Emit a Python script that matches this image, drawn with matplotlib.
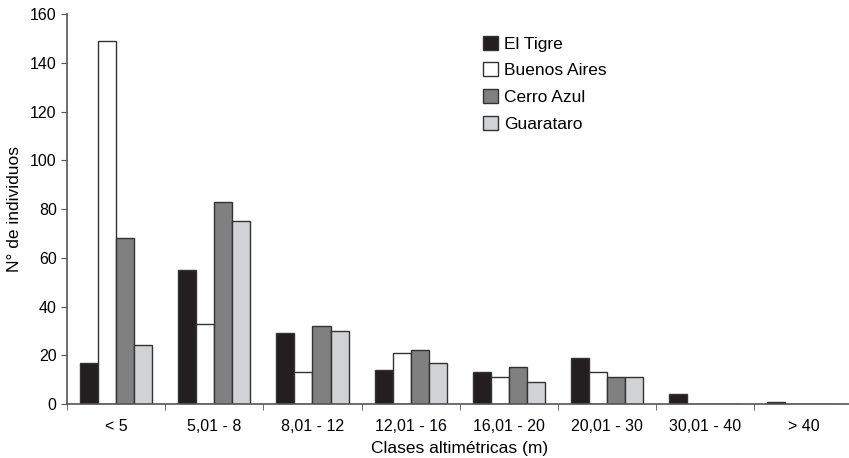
import matplotlib.pyplot as plt
import numpy as np

categories = ['< 5', '5,01 - 8', '8,01 - 12', '12,01 - 16', '16,01 - 20',
              '20,01 - 30', '30,01 - 40', '> 40']
el_tigre = [17, 55, 29, 14, 13, 19, 4, 1]
buenos_aires = [149, 33, 13, 21, 11, 13, 0, 0]
cerro_azul = [68, 83, 32, 22, 15, 11, 0, 0]
guarataro = [24, 75, 30, 17, 9, 11, 0, 0]

series = [
    ('El Tigre', el_tigre, '#231f20'),
    ('Buenos Aires', buenos_aires, '#ffffff'),
    ('Cerro Azul', cerro_azul, '#808080'),
    ('Guarataro', guarataro, '#d1d2d4'),
]

plt.rcParams['font.family'] = ['Liberation Sans', 'DejaVu Sans']

fig = plt.figure(figsize=(8.49, 4.58), dpi=100)
ax = fig.add_axes([0.079, 0.118, 0.925, 0.851])

x = np.arange(len(categories))
w = 0.184
for i, (name, vals, color) in enumerate(series):
    ax.bar(x + (i - 1.5) * w, vals, w, color=color, edgecolor='#333333',
           linewidth=1.0, label=name)

ax.set_xlim(-0.5, len(categories) - 0.5)
ax.set_ylim(0, 160)
ax.set_yticks(range(0, 161, 20))
ax.set_xticks(x)
ax.set_xticklabels(categories, fontsize=11.5)
ax.set_xticks(np.arange(len(categories) + 1) - 0.5, minor=True)
ax.tick_params(axis='x', which='major', length=0, pad=11)
ax.tick_params(axis='x', which='minor', length=4, direction='out', color='#555555')
ax.tick_params(axis='y', labelsize=11.5, length=4, color='#555555')

for s in ['top', 'right']:
    ax.spines[s].set_visible(False)
for s in ['left', 'bottom']:
    ax.spines[s].set_color('#555555')
    ax.spines[s].set_linewidth(1.2)

ax.set_xlabel('Clases altimétricas (m)', fontsize=12.5, labelpad=5)
ax.set_ylabel('N° de individuos', fontsize=12.5, labelpad=6)

ax.legend(loc='upper left', bbox_to_anchor=(0.51, 0.985), frameon=False,
          fontsize=12.5, handlelength=0.85, handleheight=0.85, handletextpad=0.35,
          labelspacing=0.62)

plt.savefig('out.png', dpi=100)
